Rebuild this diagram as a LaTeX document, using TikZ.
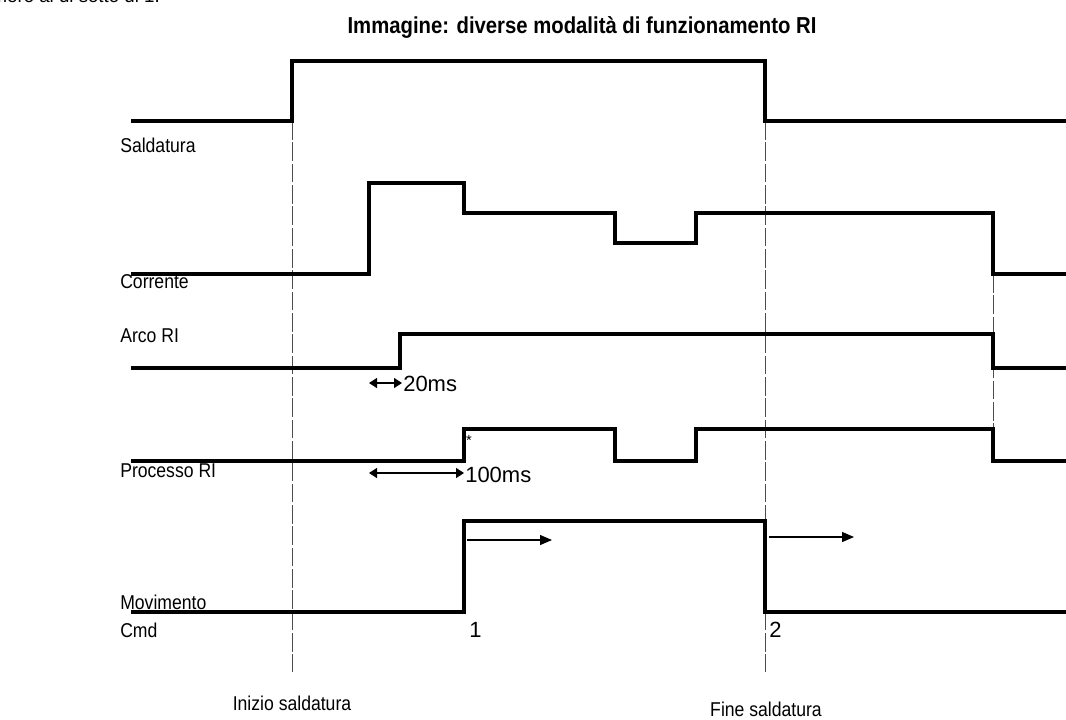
\documentclass[tikz,border=0pt]{standalone}
\usepackage{fontspec}
\setmainfont{Liberation Sans}
\newfontfamily\narrowfont[FakeStretch=0.88]{Liberation Sans}
\usetikzlibrary{arrows.meta}
\begin{document}
\begin{tikzpicture}[x=0.75pt,y=-0.75pt,
 sig/.style={line width=3.2pt, line join=miter, line cap=butt},
 guide/.style={line width=0.6pt, dash pattern=on 14pt off 2pt, black!70},
 lbl/.style={anchor=base west, font=\narrowfont\fontsize{15}{18}\selectfont, inner sep=0pt},
 clbl/.style={anchor=base, font=\narrowfont\fontsize{15}{18}\selectfont, inner sep=0pt},
 tlbl/.style={inner sep=0pt, font=\fontsize{16.5}{19}\selectfont},
 ptr/.style={line width=0.9pt, -{Triangle[length=9pt,width=7.5pt]}},
 dptr/.style={line width=0.9pt, {Triangle[length=6pt,width=7.5pt]}-{Triangle[length=6pt,width=7.5pt]}},
]
\useasboundingbox (0,0) rectangle (1066,719);
\begin{scope}
\clip (0,0) rectangle (1066,719);
\node[anchor=base east, font=\fontsize{14}{16}\selectfont, inner sep=0pt] (cut) at (160,2) {numero al di sotto di 1.};
\end{scope}
% title
\node[anchor=base, font=\narrowfont\bfseries\fontsize{17.3}{20}\selectfont, inner sep=0pt] (title) at (582,33) {Immagine: diverse modalità di funzionamento RI};
% labels
\node[lbl] (lsald) at (120,152) {Saldatura};
\node[lbl] (lcorr) at (120,288) {Corrente};
\node[lbl] (larco) at (120,342) {Arco RI};
\node[lbl] (lproc) at (120,477) {Processo RI};
\node[lbl] (lmov) at (120,609) {Movimento};
\node[lbl] (lcmd) at (120,637) {Cmd};
\node[clbl] (inizio) at (292,710) {Inizio saldatura};
\node[clbl] (fine) at (766,716) {Fine saldatura};
% guides
\coordinate (g1a) at (292,121); \coordinate (g1b) at (292,672);
\coordinate (g2a) at (765,121); \coordinate (g2b) at (765,672);
\coordinate (g3a) at (993,274); \coordinate (g3b) at (993,429);
\draw[guide] (g1a) -- (g1b);
\draw[guide] (g2a) -- (g2b);
\draw[guide] (g3a) -- (g3b);
% signals
\draw[sig] (131,121) -- (292,121) -- (292,61) -- (765,61) -- (765,121) -- (1066,121);
\draw[sig] (131,274) -- (369,274) -- (369,183) -- (464,183) -- (464,213) -- (615,213) -- (615,243) -- (696,243) -- (696,213) -- (993,213) -- (993,274) -- (1066,274);
\draw[sig] (131,368) -- (400,368) -- (400,334) -- (993,334) -- (993,368) -- (1066,368);
\draw[sig] (131,461) -- (464,461) -- (464,429) -- (615,429) -- (615,461) -- (696,461) -- (696,429) -- (993,429) -- (993,461) -- (1066,461);
\draw[sig] (131,612) -- (464,612) -- (464,521) -- (765,521) -- (765,612) -- (1066,612);
% timing arrows
\coordinate (a20l) at (369,383); \coordinate (a20r) at (402,383);
\draw[dptr] (a20l) -- (a20r);
\node[tlbl, anchor=west] (t20) at (403,384) {20ms};
\coordinate (a100l) at (369,473); \coordinate (a100r) at (464,473);
\draw[dptr] (a100l) -- (a100r);
\node[tlbl, anchor=west] (t100) at (465,475) {100ms};
\node[font=\fontsize{11}{12}\selectfont, inner sep=0pt] (star) at (469,440) {*};
% movement arrows
\coordinate (m1a) at (467,540); \coordinate (m1b) at (552,540);
\draw[ptr] (m1a) -- (m1b);
\coordinate (m2a) at (769,537); \coordinate (m2b) at (854,537);
\draw[ptr] (m2a) -- (m2b);
\node[tlbl, anchor=base west] (n1) at (469,637) {1};
\node[tlbl, anchor=base west] (n2) at (769,637) {2};
\end{tikzpicture}
\end{document}
